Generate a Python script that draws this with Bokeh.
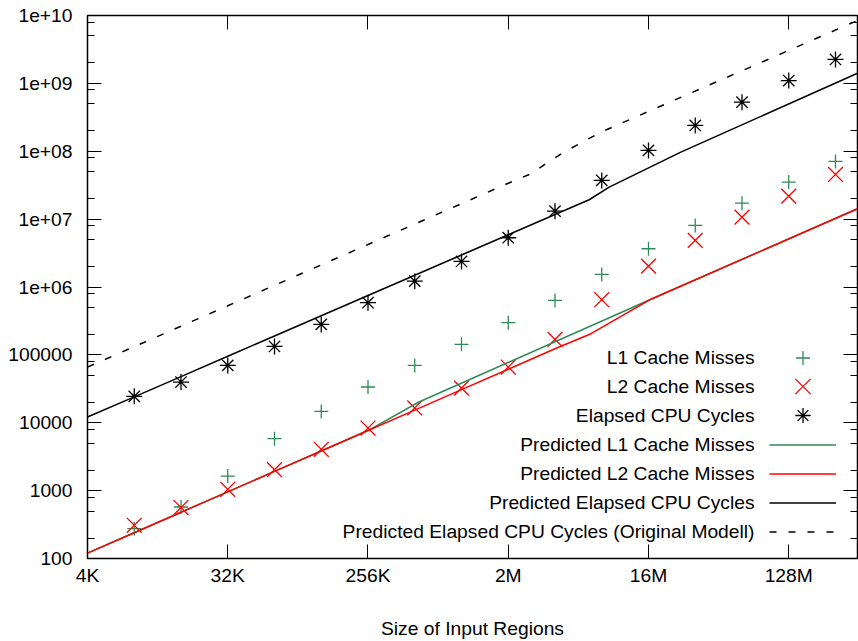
from bokeh.plotting import figure
from bokeh.models import Range1d, FixedTicker, LogAxis, Legend, LegendItem, Label
from bokeh.core.properties import value
from bokeh.embed import file_html
from bokeh.resources import INLINE

# ---------------- data ----------------
sizes = [8192, 16384, 32768, 65536, 131072, 262144, 524288, 1048576, 2097152,
         4194304, 8388608, 16777216, 33554432, 67108864, 134217728, 268435456]
l1_misses = [275, 574, 1640, 5830, 14700, 33600, 70000, 143000, 298000,
             635000, 1.53e6, 3.66e6, 8.08e6, 1.72e7, 3.51e7, 7.08e7]
l2_misses = [308, 563, 1045, 2040, 4060, 8360, 16500, 32400, 66100,
             169000, 650000, 2.03e6, 4.86e6, 1.07e7, 2.18e7, 4.55e7]
cpu_cycles = [24500, 39800, 70000, 133000, 281000, 587000, 1.22e6, 2.38e6, 5.32e6,
              1.31e7, 3.72e7, 1.03e8, 2.40e8, 5.29e8, 1.10e9, 2.25e9]

pred_l1_x = [4096, 8192, 16384, 32768, 65536, 131072, 262144, 558000, 1.74e7, 3.72e8]
pred_l1 = [120, 240, 480, 960, 1920, 3840, 7680, 20200, 661000, 1.42e7]

pred_l2_x = [4096, 8192, 16384, 32768, 65536, 131072, 262144, 524288, 1048576,
             2097152, 4194304, 7.15e6, 1.74e7, 3.72e8]
pred_l2 = [120, 240, 480, 960, 1920, 3840, 7680, 15360, 30720,
           61440, 122880, 205000, 661000, 1.42e7]

pred_cyc_x = [4096, 8192, 16384, 32768, 65536, 131072, 262144, 524288, 1048576,
              2097152, 4194304, 6.96e6, 9.37e6, 2.71e7, 3.72e8]
pred_cyc = [12130, 24100, 47900, 95300, 189700, 377000, 749000, 1.49e6, 2.96e6,
            5.88e6, 1.17e7, 1.93e7, 2.96e7, 9.7e7, 1.41e9]

orig_x = [4096, 8192, 16384, 32768, 65536, 131072, 262144, 524288, 1048576,
          2097152, 3.0e6, 3.65e6, 4.79e6, 8.27e6, 3.72e8]
orig_cyc = [66100, 132200, 264400, 528800, 1.058e6, 2.115e6, 4.23e6, 8.46e6, 1.69e7,
            3.38e7, 4.75e7, 6.55e7, 9.7e7, 1.91e8, 8.44e9]

x_ticks = [4096, 32768, 262144, 2097152, 16777216, 134217728]
x_tick_labels = ["4K", "32K", "256K", "2M", "16M", "128M"]
y_ticks = [1e2, 1e3, 1e4, 1e5, 1e6, 1e7, 1e8, 1e9, 1e10]
y_tick_labels = ["100", "1000", "10000", "100000", "1e+06", "1e+07", "1e+08", "1e+09", "1e+10"]
y_minor = [m * d for d in [1e2, 1e3, 1e4, 1e5, 1e6, 1e7, 1e8, 1e9] for m in (2, 5, 8)]

legend_labels = ["L1 Cache Misses", "L2 Cache Misses", "Elapsed CPU Cycles",
                 "Predicted L1 Cache Misses", "Predicted L2 Cache Misses",
                 "Predicted Elapsed CPU Cycles",
                 "Predicted Elapsed CPU Cycles (Original Modell)"]
x_title = "Size of Input Regions"

GREEN = "#2e8b57"
RED = "#ff0000"
BLACK = "#000000"
FONT = "Liberation Sans"
FS = "19.25px"

ROW0 = 200.7      # first legend row centre, px above frame bottom
ROW_STEP = 29

# ---------------- figure ----------------
p = figure(width=858, height=641, x_axis_type="log", y_axis_type="log",
           x_range=Range1d(4096, 3.72e8), y_range=Range1d(100, 1e10),
           output_backend="svg", toolbar_location=None,
           min_border_left=87, min_border_right=1, min_border_top=15, min_border_bottom=83)
p.background_fill_color = "white"
p.border_fill_color = "white"
p.outline_line_color = BLACK
p.outline_line_width = 1.5
p.xgrid.visible = False
p.ygrid.visible = False

xt = FixedTicker(ticks=x_ticks, minor_ticks=[])
yt = FixedTicker(ticks=y_ticks, minor_ticks=y_minor)


def style_axis(ax, ticker, show_labels, standoff):
    ax.ticker = ticker
    ax.axis_line_color = None
    ax.major_tick_in = 14
    ax.major_tick_out = 0
    ax.minor_tick_in = 7
    ax.minor_tick_out = 0
    ax.major_tick_line_color = BLACK
    ax.minor_tick_line_color = BLACK
    ax.major_tick_line_width = 1
    ax.minor_tick_line_width = 1
    ax.major_label_standoff = standoff
    if show_labels:
        ax.major_label_text_font = FONT
        ax.major_label_text_font_size = FS
        ax.major_label_text_color = BLACK
    else:
        ax.major_label_text_font_size = "0px"
        ax.major_label_text_alpha = 0


xb = p.xaxis[0]
style_axis(xb, xt, True, 6)
xb.major_label_overrides = dict(zip(x_ticks, x_tick_labels))
xb.axis_label = x_title
xb.axis_label_text_font = FONT
xb.axis_label_text_font_size = FS
xb.axis_label_text_font_style = "normal"
xb.axis_label_text_color = BLACK
xb.axis_label_standoff = 29

yl = p.yaxis[0]
style_axis(yl, yt, True, 15)
yl.major_label_overrides = dict(zip(y_ticks, y_tick_labels))

top = LogAxis()
style_axis(top, xt, False, 0)
p.add_layout(top, "above")
right = LogAxis()
style_axis(right, yt, False, 0)
p.add_layout(right, "right")

# ---------------- data glyphs ----------------
r_l1 = p.scatter(sizes, l1_misses, marker="cross", size=14, line_color=GREEN, line_width=1.3)
r_l2 = p.scatter(sizes, l2_misses, marker="x", size=21, line_color=RED, line_width=1.3)
r_cy = p.scatter(sizes, cpu_cycles, marker="asterisk", size=16, line_color=BLACK, line_width=1.3)

r_pl1 = p.line(pred_l1_x, pred_l1, line_color=GREEN, line_width=1.5)
r_pl2 = p.line(pred_l2_x, pred_l2, line_color=RED, line_width=1.5)
r_pcy = p.line(pred_cyc_x, pred_cyc, line_color=BLACK, line_width=1.5)
r_org = p.line(orig_x, orig_cyc, line_color=BLACK, line_width=1.5, line_dash="7 12")


# ---------------- legend (text left, symbol right like gnuplot) ----------------
def make_legend(rends, first_row, gh):
    n = len(rends)
    bottom = ROW0 - ROW_STEP * (first_row + n - 1) - gh / 2
    return Legend(items=[LegendItem(label=value(""), renderers=[r]) for r in rends],
                  location=(682, bottom), orientation="vertical",
                  glyph_width=67, glyph_height=gh, label_width=0, label_height=0,
                  label_standoff=0, spacing=ROW_STEP - gh, padding=0, margin=0,
                  label_text_font_size="1px",
                  border_line_color=None, background_fill_alpha=0)


p.add_layout(make_legend([r_l1], 0, 35))
p.add_layout(make_legend([r_l2], 1, 54))
p.add_layout(make_legend([r_cy], 2, 38))
p.add_layout(make_legend([r_pl1, r_pl2, r_pcy, r_org], 3, 29))

for i, txt in enumerate(legend_labels):
    p.add_layout(Label(x=667, y=ROW0 - ROW_STEP * i, x_units="screen", y_units="screen",
                       text=txt, text_align="right", text_baseline="middle",
                       text_font=FONT, text_font_size=FS, text_color=BLACK))

open("out.html", "w").write(file_html(p, INLINE))
